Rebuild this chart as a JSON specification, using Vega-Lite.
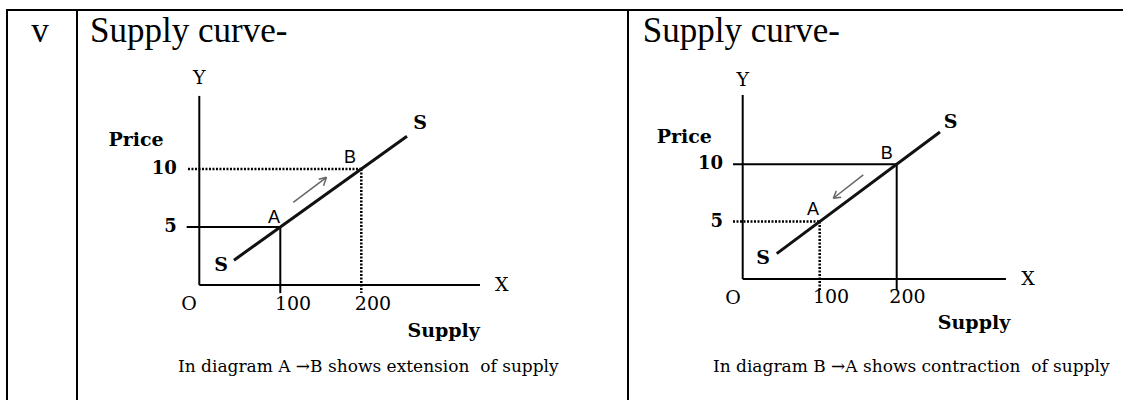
{
  "$schema": "https://vega.github.io/schema/vega-lite/v6.json",
  "padding": 0,
  "spacing": 0,
  "bounds": "flush",
  "background": "white",
  "config": {"view": {"stroke": null}},
  "datasets": {
    "vCell": [
      {"role": "border", "x": 0.0909, "y": 0.975, "x2": 1, "y2": 0.975},
      {"role": "border", "x": 0.0909, "y": 0.0025, "x2": 0.0909, "y2": 0.975},
      {"role": "heading", "text": "v", "x": 0.519, "y": 0.895}
    ],
    "leftFrame": [
      {"role": "border", "x": 0, "y": 0.975, "x2": 1, "y2": 0.975},
      {"role": "border", "x": 0, "y": 0.0025, "x2": 0, "y2": 0.975},
      {"role": "heading", "text": "Supply curve-", "x": 0.0236, "y": 0.895}
    ],
    "rightFrame": [
      {"role": "border", "x": 0, "y": 0.975, "x2": 0.998, "y2": 0.975},
      {"role": "border", "x": 0, "y": 0.0025, "x2": 0, "y2": 0.975},
      {"role": "heading", "text": "Supply curve-", "x": 0.0297, "y": 0.895}
    ],
    "leftSegments": [
      {"role": "axis", "x": 0, "y": 0, "x2": 0, "y2": 16.3},
      {"role": "axis", "x": 0, "y": 0, "x2": 346.5, "y2": 0},
      {"role": "solid", "x": -15.6, "y": 5, "x2": 100, "y2": 5},
      {"role": "solid", "x": 100, "y": 5, "x2": 100, "y2": -0.7},
      {"role": "dotted", "x": -14, "y": 10, "x2": 200, "y2": 10},
      {"role": "dotted", "x": 200, "y": 10, "x2": 200, "y2": -0.7},
      {"role": "curve", "x": 42.8, "y": 2.14, "x2": 256.4, "y2": 12.82},
      {"role": "arrow", "x": 116, "y": 7.13, "x2": 157, "y2": 9.28},
      {"role": "arrow", "x": 147.5, "y": 9.11, "x2": 157, "y2": 9.28},
      {"role": "arrow", "x": 153.4, "y": 8.56, "x2": 157, "y2": 9.28}
    ],
    "leftLabels": [
      {"role": "axisLetter", "text": "Y", "x": 0, "y": 17.85},
      {"role": "axisLetter", "text": "X", "x": 373.3, "y": 0},
      {"role": "axisLetter", "text": "O", "x": -12.7, "y": -1.64},
      {"role": "supplyTick", "text": "100", "x": 115.7, "y": -1.64},
      {"role": "supplyTick", "text": "200", "x": 214.4, "y": -1.64},
      {"role": "priceTick", "text": "10", "x": -27.7, "y": 10},
      {"role": "priceTick", "text": "5", "x": -27.7, "y": 5},
      {"role": "axisTitle", "text": "Price", "x": -78.1, "y": 12.5},
      {"role": "axisTitle", "text": "Supply", "x": 301.6, "y": -3.97},
      {"role": "point", "text": "A", "x": 92.2, "y": 5.8},
      {"role": "point", "text": "B", "x": 186, "y": 10.92},
      {"role": "curveLabel", "text": "S", "x": 26.8, "y": 1.75},
      {"role": "curveLabel", "text": "S", "x": 272.5, "y": 13.97},
      {"role": "caption", "text": "In diagram A →B shows extension \u00a0of supply", "x": -26.3, "y": -7.04}
    ],
    "rightSegments": [
      {"role": "axis", "x": 0, "y": 0, "x2": 0, "y2": 16.04},
      {"role": "axis", "x": 0, "y": 0, "x2": 341.9, "y2": 0},
      {"role": "solid", "x": -12.6, "y": 10, "x2": 200, "y2": 10},
      {"role": "solid", "x": 200, "y": 10, "x2": 200, "y2": -0.96},
      {"role": "dotted", "x": -12.6, "y": 5, "x2": 100, "y2": 5},
      {"role": "dotted", "x": 100, "y": 5, "x2": 100, "y2": -0.96},
      {"role": "curve", "x": 44.2, "y": 2.21, "x2": 256.2, "y2": 12.81},
      {"role": "arrow", "x": 156.6, "y": 9.07, "x2": 117.7, "y2": 7.04},
      {"role": "arrow", "x": 127.9, "y": 7.13, "x2": 117.7, "y2": 7.04},
      {"role": "arrow", "x": 121.6, "y": 7.68, "x2": 117.7, "y2": 7.04}
    ],
    "rightLabels": [
      {"role": "axisLetter", "text": "Y", "x": 0, "y": 17.35},
      {"role": "axisLetter", "text": "X", "x": 370.5, "y": 0},
      {"role": "axisLetter", "text": "O", "x": -12.6, "y": -1.63},
      {"role": "supplyTick", "text": "100", "x": 114.7, "y": -1.57},
      {"role": "supplyTick", "text": "200", "x": 214, "y": -1.57},
      {"role": "priceTick", "text": "10", "x": -25.6, "y": 10},
      {"role": "priceTick", "text": "5", "x": -25.6, "y": 5},
      {"role": "axisTitle", "text": "Price", "x": -75.8, "y": 12.38},
      {"role": "axisTitle", "text": "Supply", "x": 300.4, "y": -3.84},
      {"role": "point", "text": "A", "x": 91.3, "y": 6.05},
      {"role": "point", "text": "B", "x": 187, "y": 10.9},
      {"role": "curveLabel", "text": "S", "x": 26.4, "y": 1.8},
      {"role": "curveLabel", "text": "S", "x": 270, "y": 13.7},
      {"role": "caption", "text": "In diagram B →A shows contraction \u00a0of supply", "x": -38.6, "y": -7.63}
    ]
  },
  "hconcat": [
    {
      "width": 77,
      "height": 400,
      "data": {"name": "vCell"},
      "encoding": {
        "x": {"field": "x", "type": "quantitative", "scale": {"domain": [0, 1], "nice": false, "zero": false}, "axis": null},
        "y": {"field": "y", "type": "quantitative", "scale": {"domain": [0, 1], "nice": false, "zero": false}, "axis": null}
      },
      "layer": [
        {"transform": [{"filter": "datum.role === 'border'"}], "mark": {"type": "rule", "color": "black", "strokeWidth": 2, "strokeCap": "square"}, "encoding": {"x2": {"field": "x2"}, "y2": {"field": "y2"}}},
        {"transform": [{"filter": "datum.role === 'heading'"}], "mark": {"type": "text", "font": "Liberation Serif", "fontSize": 35, "align": "center", "baseline": "alphabetic", "color": "black"}, "encoding": {"text": {"field": "text"}}}
      ]
    },
    {
      "width": 551,
      "height": 400,
      "resolve": {"scale": {"x": "independent", "y": "independent"}},
      "layer": [
        {
          "data": {"name": "leftFrame"},
          "encoding": {
            "x": {"field": "x", "type": "quantitative", "scale": {"domain": [0, 1], "nice": false, "zero": false}, "axis": null},
            "y": {"field": "y", "type": "quantitative", "scale": {"domain": [0, 1], "nice": false, "zero": false}, "axis": null}
          },
          "layer": [
            {"transform": [{"filter": "datum.role === 'border'"}], "mark": {"type": "rule", "color": "black", "strokeWidth": 2, "strokeCap": "square"}, "encoding": {"x2": {"field": "x2"}, "y2": {"field": "y2"}}},
            {"transform": [{"filter": "datum.role === 'heading'"}], "mark": {"type": "text", "font": "Liberation Serif", "fontSize": 35, "align": "left", "baseline": "alphabetic", "color": "black"}, "encoding": {"text": {"field": "text"}}}
          ]
        },
        {
          "encoding": {
            "x": {"field": "x", "type": "quantitative", "title": "Supply", "scale": {"domain": [-150.99, 529.26], "nice": false, "zero": false}, "axis": null},
            "y": {"field": "y", "type": "quantitative", "title": "Price", "scale": {"domain": [-9.914, 24.569], "nice": false, "zero": false}, "axis": null}
          },
          "layer": [
            {"data": {"name": "leftSegments"}, "transform": [{"filter": "datum.role === 'axis' || datum.role === 'solid'"}], "mark": {"type": "rule", "color": "black", "strokeWidth": 2}, "encoding": {"x2": {"field": "x2"}, "y2": {"field": "y2"}}},
            {"data": {"name": "leftSegments"}, "transform": [{"filter": "datum.role === 'dotted'"}], "mark": {"type": "rule", "color": "black", "strokeWidth": 2.5, "strokeDash": [2, 1.5]}, "encoding": {"x2": {"field": "x2"}, "y2": {"field": "y2"}}},
            {"data": {"name": "leftSegments"}, "transform": [{"filter": "datum.role === 'curve'"}], "mark": {"type": "rule", "color": "#111111", "strokeWidth": 3}, "encoding": {"x2": {"field": "x2"}, "y2": {"field": "y2"}}},
            {"data": {"name": "leftSegments"}, "transform": [{"filter": "datum.role === 'arrow'"}], "mark": {"type": "rule", "color": "#666666", "strokeWidth": 1.5}, "encoding": {"x2": {"field": "x2"}, "y2": {"field": "y2"}}},
            {"data": {"name": "leftLabels"}, "transform": [{"filter": "datum.role === 'axisLetter'"}], "mark": {"type": "text", "font": "DejaVu Serif", "fontSize": 19, "align": "center", "baseline": "middle", "color": "black"}, "encoding": {"text": {"field": "text"}}},
            {"data": {"name": "leftLabels"}, "transform": [{"filter": "datum.role === 'supplyTick'"}], "mark": {"type": "text", "font": "DejaVu Serif", "fontSize": 19, "align": "center", "baseline": "middle", "color": "black"}, "encoding": {"text": {"field": "text"}}},
            {"data": {"name": "leftLabels"}, "transform": [{"filter": "datum.role === 'priceTick'"}], "mark": {"type": "text", "font": "DejaVu Serif", "fontSize": 18, "fontWeight": "bold", "align": "right", "baseline": "middle", "color": "black"}, "encoding": {"text": {"field": "text"}}},
            {"data": {"name": "leftLabels"}, "transform": [{"filter": "datum.role === 'axisTitle'"}], "mark": {"type": "text", "font": "DejaVu Serif", "fontSize": 19, "fontWeight": "bold", "align": "center", "baseline": "middle", "color": "black"}, "encoding": {"text": {"field": "text"}}},
            {"data": {"name": "leftLabels"}, "transform": [{"filter": "datum.role === 'point'"}], "mark": {"type": "text", "font": "Liberation Sans", "fontSize": 18, "align": "center", "baseline": "middle", "color": "black"}, "encoding": {"text": {"field": "text"}}},
            {"data": {"name": "leftLabels"}, "transform": [{"filter": "datum.role === 'curveLabel'"}], "mark": {"type": "text", "font": "DejaVu Serif", "fontSize": 19, "fontWeight": "bold", "align": "center", "baseline": "middle", "color": "black"}, "encoding": {"text": {"field": "text"}}},
            {"data": {"name": "leftLabels"}, "transform": [{"filter": "datum.role === 'caption'"}], "mark": {"type": "text", "font": "DejaVu Serif", "fontSize": 17, "align": "left", "baseline": "middle", "color": "black"}, "encoding": {"text": {"field": "text"}}}
          ]
        }
      ]
    },
    {
      "width": 495,
      "height": 400,
      "resolve": {"scale": {"x": "independent", "y": "independent"}},
      "layer": [
        {
          "data": {"name": "rightFrame"},
          "encoding": {
            "x": {"field": "x", "type": "quantitative", "scale": {"domain": [0, 1], "nice": false, "zero": false}, "axis": null},
            "y": {"field": "y", "type": "quantitative", "scale": {"domain": [0, 1], "nice": false, "zero": false}, "axis": null}
          },
          "layer": [
            {"transform": [{"filter": "datum.role === 'border'"}], "mark": {"type": "rule", "color": "black", "strokeWidth": 2, "strokeCap": "square"}, "encoding": {"x2": {"field": "x2"}, "y2": {"field": "y2"}}},
            {"transform": [{"filter": "datum.role === 'heading'"}], "mark": {"type": "text", "font": "Liberation Serif", "fontSize": 35, "align": "left", "baseline": "alphabetic", "color": "black"}, "encoding": {"text": {"field": "text"}}}
          ]
        },
        {
          "encoding": {
            "x": {"field": "x", "type": "quantitative", "title": "Supply", "scale": {"domain": [-148.96, 493.9], "nice": false, "zero": false}, "axis": null},
            "y": {"field": "y", "type": "quantitative", "title": "Price", "scale": {"domain": [-10.55, 24.32], "nice": false, "zero": false}, "axis": null}
          },
          "layer": [
            {"data": {"name": "rightSegments"}, "transform": [{"filter": "datum.role === 'axis' || datum.role === 'solid'"}], "mark": {"type": "rule", "color": "black", "strokeWidth": 2}, "encoding": {"x2": {"field": "x2"}, "y2": {"field": "y2"}}},
            {"data": {"name": "rightSegments"}, "transform": [{"filter": "datum.role === 'dotted'"}], "mark": {"type": "rule", "color": "black", "strokeWidth": 2.5, "strokeDash": [2, 1.5]}, "encoding": {"x2": {"field": "x2"}, "y2": {"field": "y2"}}},
            {"data": {"name": "rightSegments"}, "transform": [{"filter": "datum.role === 'curve'"}], "mark": {"type": "rule", "color": "#111111", "strokeWidth": 3}, "encoding": {"x2": {"field": "x2"}, "y2": {"field": "y2"}}},
            {"data": {"name": "rightSegments"}, "transform": [{"filter": "datum.role === 'arrow'"}], "mark": {"type": "rule", "color": "#666666", "strokeWidth": 1.5}, "encoding": {"x2": {"field": "x2"}, "y2": {"field": "y2"}}},
            {"data": {"name": "rightLabels"}, "transform": [{"filter": "datum.role === 'axisLetter'"}], "mark": {"type": "text", "font": "DejaVu Serif", "fontSize": 19, "align": "center", "baseline": "middle", "color": "black"}, "encoding": {"text": {"field": "text"}}},
            {"data": {"name": "rightLabels"}, "transform": [{"filter": "datum.role === 'supplyTick'"}], "mark": {"type": "text", "font": "DejaVu Serif", "fontSize": 19, "align": "center", "baseline": "middle", "color": "black"}, "encoding": {"text": {"field": "text"}}},
            {"data": {"name": "rightLabels"}, "transform": [{"filter": "datum.role === 'priceTick'"}], "mark": {"type": "text", "font": "DejaVu Serif", "fontSize": 18, "fontWeight": "bold", "align": "right", "baseline": "middle", "color": "black"}, "encoding": {"text": {"field": "text"}}},
            {"data": {"name": "rightLabels"}, "transform": [{"filter": "datum.role === 'axisTitle'"}], "mark": {"type": "text", "font": "DejaVu Serif", "fontSize": 19, "fontWeight": "bold", "align": "center", "baseline": "middle", "color": "black"}, "encoding": {"text": {"field": "text"}}},
            {"data": {"name": "rightLabels"}, "transform": [{"filter": "datum.role === 'point'"}], "mark": {"type": "text", "font": "Liberation Sans", "fontSize": 18, "align": "center", "baseline": "middle", "color": "black"}, "encoding": {"text": {"field": "text"}}},
            {"data": {"name": "rightLabels"}, "transform": [{"filter": "datum.role === 'curveLabel'"}], "mark": {"type": "text", "font": "DejaVu Serif", "fontSize": 19, "fontWeight": "bold", "align": "center", "baseline": "middle", "color": "black"}, "encoding": {"text": {"field": "text"}}},
            {"data": {"name": "rightLabels"}, "transform": [{"filter": "datum.role === 'caption'"}], "mark": {"type": "text", "font": "DejaVu Serif", "fontSize": 17, "align": "left", "baseline": "middle", "color": "black"}, "encoding": {"text": {"field": "text"}}}
          ]
        }
      ]
    }
  ]
}
